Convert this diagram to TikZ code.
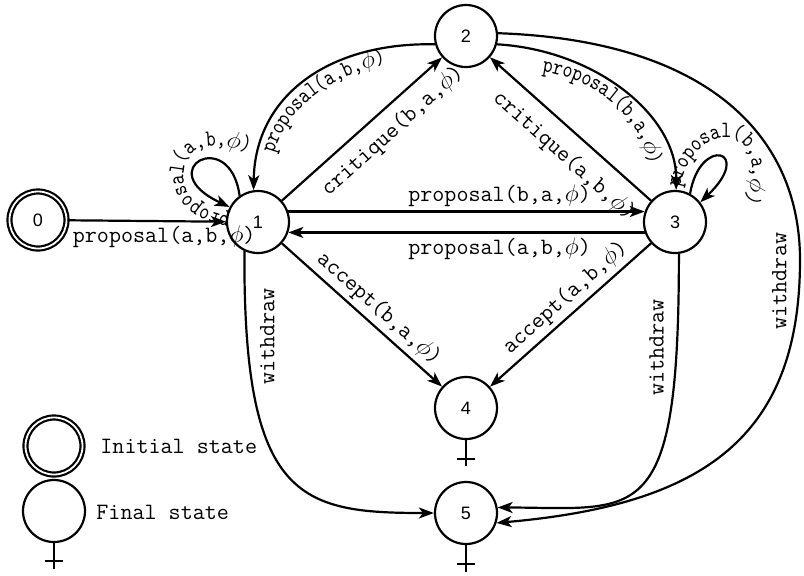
\documentclass[tikz,border=0pt]{standalone}
\usepackage{fontspec}
\newfontfamily\statefont{Liberation Sans}
\newfontfamily\condmono{lmmono10-regular}[Extension=.otf,FakeStretch=0.8]
\usetikzlibrary{arrows.meta,decorations.text}
\newcommand\lblfont{\ttfamily\fontsize{11.7}{14}\selectfont}
\newcommand\condfont{\condmono\fontsize{11.7}{14}\selectfont}
\newcommand\ph{\ensuremath{\phi}}
\begin{document}
\begin{tikzpicture}[x=0.5pt,y=-0.5pt,
  st/.style={circle,draw,line width=1.1pt,minimum size=31pt,inner sep=0pt,font=\statefont\fontsize{9}{11}\selectfont},
  initst/.style={st,double,double distance=0.9pt,minimum size=28.5pt},
  arr/.style={line width=1.1pt,-{Stealth[length=7.5pt,width=5.5pt,inset=2pt]}},
  lbl/.style={font=\lblfont,inner sep=2pt},
  wlbl/.style={font=\lblfont,inner sep=6pt,rotate=90},
  finalmark/.style={line width=1.1pt},
  curvedlbl/.style={decorate,decoration={text along path,text align=left}}
]
\useasboundingbox (0,0) rectangle (804,575);

% states
\node[initst] (s0) at (38,220) {0};
\node[st] (s1) at (258,222) {1};
\node[st] (s2) at (466,36) {2};
\node[st] (s3) at (675,222) {3};
\node[st] (s4) at (466,408) {4};
\node[st] (s5) at (466,513) {5};

% final markers
\draw[finalmark] (s4.south) -- ++(0,26) ++(-9,-7) -- ++(18,0);
\draw[finalmark] (s5.south) -- ++(0,27) ++(-9,-8) -- ++(18,0);

% straight edges
\draw[arr] (s0) -- node[lbl,below,pos=0.61]{proposal(a,b,\ph)} (s1);
\draw[arr] (s1.19) -- node[lbl,above,pos=0.593]{proposal(b,a,\ph)} (s3.161);
\draw[arr] (s3.199) -- node[lbl,below,pos=0.407]{proposal(a,b,\ph)} (s1.341);
\draw[arr] (s1) -- node[lbl,below=3pt,sloped,pos=0.6]{critique(b,a,\ph)} (s2);
\draw[arr] (s3) -- node[lbl,below=4pt,sloped,pos=0.44]{critique(a,b,\ph)} (s2);
\draw[arr] (s1) -- node[lbl,above,sloped,pos=0.54]{accept(b,a,\ph)} (s4);
\draw[arr] (s3) -- node[lbl,above,sloped,pos=0.465]{accept(a,b,\ph)} (s4);

% curved edges
\draw[arr] (s2.195) .. controls (330,42) and (255,95) .. (s1.98);
\path[curvedlbl,decoration={text={|\condfont|proposal(a,b,{\ph})}}]
  (274,154) .. controls (285,112) and (324,80) .. (382,64) -- (430,58);
\draw[arr] (s2.-15) .. controls (595,50) and (677,115) .. (s3.88);
\path[curvedlbl,decoration={text={|\condfont|proposal(b,a,{\ph})}}]
  (542,72) .. controls (586,78) and (625,104) .. (643,143) -- (655,188);

% loops
\draw[arr] (s1.125) .. controls (230,125) and (150,170) .. (s1.152);
\path[curvedlbl,decoration={text={|\condfont|proposal(a,b,{\ph})}}]
  (230,216) .. controls (200,212) and (180,195) .. (184,170) .. controls (188,140) and (225,138) .. (275,165);
\draw[arr] (s3.62) .. controls (700,135) and (755,150) .. (s3.38);
\path[curvedlbl,decoration={text={|\condfont|proposal(b,a,{\ph})}}]
  (680,188) .. controls (690,130) and (752,120) .. (752,170) .. controls (752,195) and (738,210) .. (712,230);

% withdraw edges
\draw[arr] (s1.245) .. controls (243,500) and (300,513) .. (s5.180)
  node[wlbl,anchor=north,pos=0.13]{withdraw};
\draw[arr] (s3.-83) .. controls (679,530) and (640,508) .. (s5.10)
  node[wlbl,anchor=south,pos=0.13]{withdraw};
\draw[arr] (s2.5) .. controls (700,40) and (800,130) .. (800,260)
  .. controls (800,440) and (700,505) .. (s5.-18)
  node[wlbl,anchor=south,pos=0.04]{withdraw};

% legend
\node[initst] (l0) at (54,446) {};
\node[st] (l1) at (54,511) {};
\draw[finalmark] (l1.south) -- ++(0,26) ++(-9,-8) -- ++(18,0);
\node[lbl,anchor=west] (t0) at (96,446) {Initial state};
\node[lbl,anchor=west] (t1) at (92,512) {Final state};
\end{tikzpicture}
\end{document}
